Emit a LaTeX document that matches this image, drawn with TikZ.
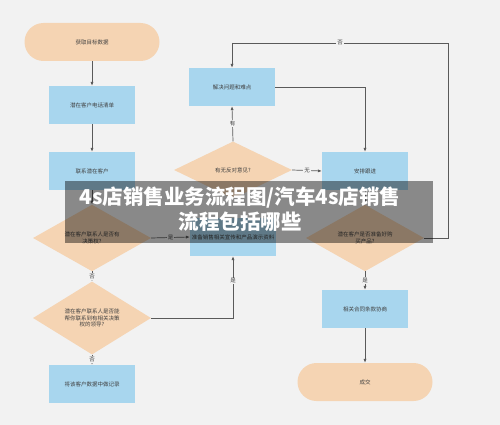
\documentclass[tikz,border=0pt]{standalone}
\usepackage{fontspec}
\newfontfamily\cjk{Noto Sans CJK SC}
\usetikzlibrary{shapes.geometric,arrows.meta}
\definecolor{bgc}{HTML}{F2F2F2}
\definecolor{boxc}{HTML}{A8D6EE}
\definecolor{peach}{HTML}{F5D4B3}
\definecolor{linec}{HTML}{5A5A5A}
\definecolor{txtc}{HTML}{404040}
\tikzset{
  base/.style={font=\cjk\fontsize{5.5}{6.4}\selectfont, text=txtc, align=center, inner sep=0pt},
  procbox/.style={base, rectangle, fill=boxc, minimum width=86pt, minimum height=38pt},
  term/.style={base, rectangle, rounded corners=19pt, fill=peach, minimum width=135pt, minimum height=38pt},
  decide/.style={base, diamond, fill=peach, minimum width=118pt, minimum height=57pt},
  conn/.style={draw=linec, line width=0.7pt, -{Latex[length=4pt,width=3.2pt]}},
  plain/.style={draw=linec, line width=0.7pt},
  lab/.style={base, fill=bgc, inner sep=1pt}
}
\begin{document}
\begin{tikzpicture}[x=1pt,y=-1pt]
\fill[bgc] (0,0) rectangle (500,425);
\useasboundingbox (0,0) rectangle (500,425);
% nodes
\node[term] (start) at (92,42) {获取目标数据};
\node[procbox] (b1) at (92,105) {潜在客户电话清单};
\node[procbox] (b2) at (92,171) {联系潜在客户};
\node[decide] (d1) at (92,238) {潜在客户联系人是否有\\决策权?};
\node[decide] (d2) at (92,318) {潜在客户联系人是否能\\帮你联系到有相关决策\\权的领导?};
\node[procbox] (b3) at (92,384) {将该客户数据中做记录};
\node[procbox] (b4) at (233,237) {准备销售相关宣传和产品演示资料};
\node[decide] (d3) at (233,170) {有无反对意见?};
\node[procbox] (b5) at (232,87) {解决问题和难点};
\node[procbox] (b6) at (365,171) {安排跟进};
\node[decide] (d4) at (365,238) {潜在客户是否准备好购\\买产品?};
\node[procbox] (b7) at (365,309) {相关合同条款协商};
\node[term] (end) at (365,382) {成交};
\coordinate (c1) at (448,238);
\coordinate (c2) at (448,43);
\coordinate (c3) at (232,43);
% connectors
\draw[conn] (start) -- (b1);
\draw[conn] (b1) -- (b2);
\draw[conn] (b2) -- (d1);
\draw[conn] (d1) -- node[lab]{否} (d2);
\draw[conn] (d2) -- node[lab]{否} (b3);
\draw[conn] (d1.east) -- node[lab]{是} (b4.west);
\draw[conn] (d2.east) -| node[lab, pos=0.8]{是} (b4.south);
\draw[conn] (d3.north) -- node[lab]{有} (b5.south);
\draw[conn] (d3.east) -- node[lab]{无} (b6.west);
\draw[conn] (b5.east) -| (b6.north);
\draw[conn] (b6) -- (d4);
\draw[plain] (d4.east) -- (c1) -- (c2) -- node[lab]{否} (c3);
\draw[conn] (c3) -- (b5.north);
\draw[conn] (d4) -- node[lab]{是} (b7);
\draw[conn] (b7) -- (end);
% banner overlay
\fill[black, fill opacity=0.43] (65,181) rectangle (433,243);
\node[font=\cjk\bfseries\fontsize{20.5}{25.5}\selectfont, text=white, align=center, inner sep=0pt] (title) at (240,209) {4s店销售业务流程图/汽车4s店销售\\流程包括哪些};
\end{tikzpicture}
\end{document}
